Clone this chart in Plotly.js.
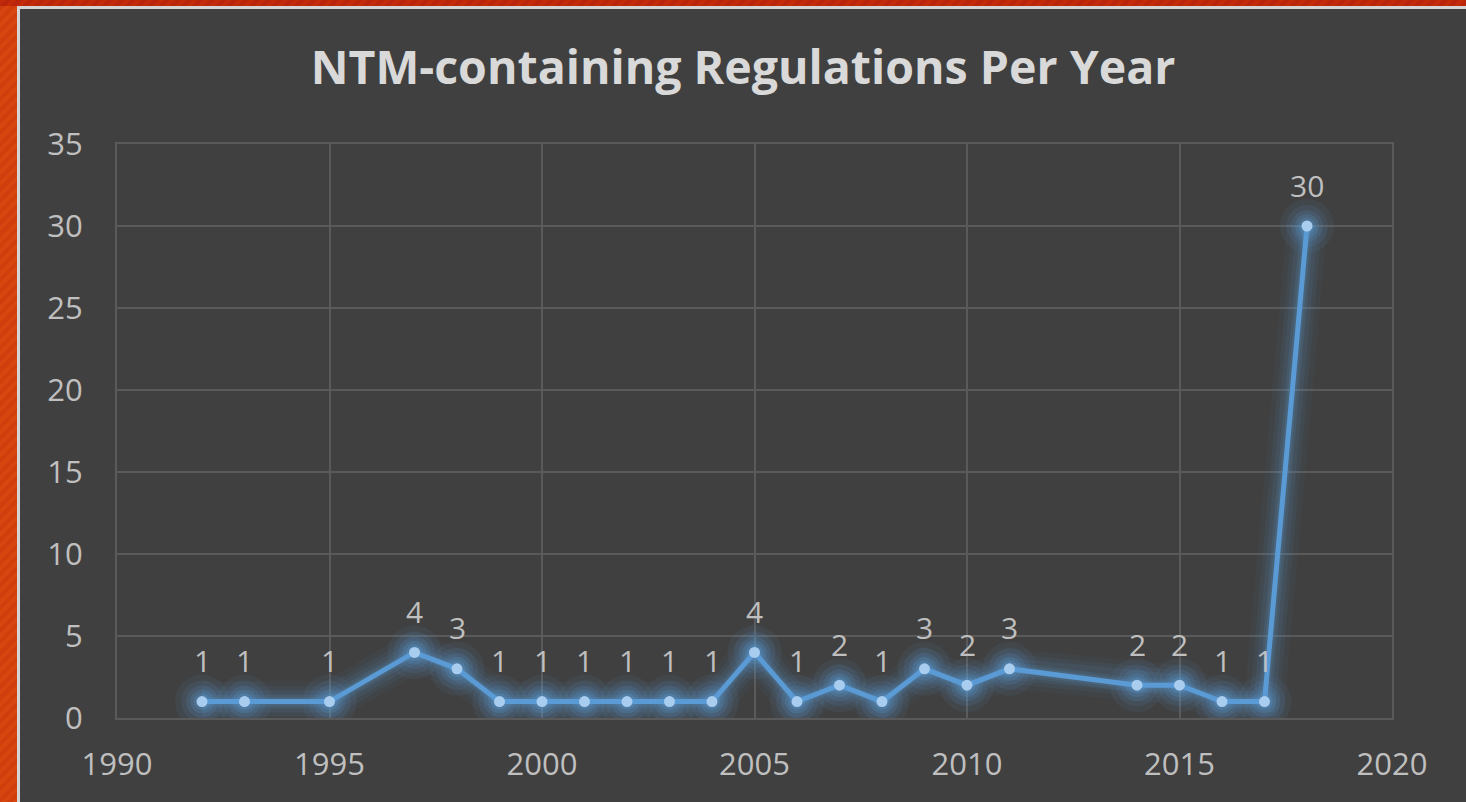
<!DOCTYPE html>
<html>
<head>
<meta charset="utf-8">
<script src="https://cdn.plot.ly/plotly-3.0.1.min.js"></script>
<style>
  html, body { margin:0; padding:0; width:1466px; height:802px; overflow:hidden; }
  body { background: repeating-linear-gradient(135deg, #d8460f 0px, #d8460f 4px, #cf3e0c 4px, #cf3e0c 8px); position:relative; }
  #topband { position:absolute; left:0; top:0; width:1466px; height:6px; background: repeating-linear-gradient(135deg, #c22a0a 0px, #c22a0a 4px, #b8250a 4px, #b8250a 8px); }
  #edge { position:absolute; left:17px; top:6px; width:1449px; height:796px; background:#d4d4d4; }
  #chart { position:absolute; left:20px; top:9px; width:1446px; height:793px; }
</style>
</head>
<body>
<div id="topband"></div>
<div id="edge"></div>
<div id="chart"></div>
<script>
const years  = [1992, 1993, 1995, 1997, 1998, 1999, 2000, 2001, 2002, 2003, 2004, 2005, 2006, 2007, 2008, 2009, 2010, 2011, 2014, 2015, 2016, 2017, 2018];
const counts = [1, 1, 1, 4, 3, 1, 1, 1, 1, 1, 1, 4, 1, 2, 1, 3, 2, 3, 2, 2, 1, 1, 30];
const titleText = 'NTM-containing Regulations Per Year';
const xTicks = [1990, 1995, 2000, 2005, 2010, 2015, 2020];
const yTicks = [0, 5, 10, 15, 20, 25, 30, 35];

const font = '"Open Sans", "Noto Sans", sans-serif';
const glow = a => 'rgba(91,155,213,' + a + ')';

const traces = [];
// soft glow layers
[[40, 54, 0.05], [30, 42, 0.07], [22, 32, 0.09], [14, 24, 0.12], [9, 17, 0.16]].forEach(([lw, ms, a]) => {
  traces.push({ x: years, y: counts, mode: 'lines+markers', hoverinfo: 'skip',
    line: { color: glow(a), width: lw },
    marker: { color: glow(a * 1.5), size: ms, line: { width: 0 } } });
});
traces.push({ x: years, y: counts, mode: 'lines+markers',
  line: { color: '#5b9bd5', width: 5 },
  marker: { color: '#a8cdef', size: 11, line: { width: 0 } } });

const annotations = years.map((yr, i) => ({
  x: yr, y: counts[i], text: String(counts[i]), showarrow: false,
  xanchor: 'center', yanchor: 'middle', yshift: 41,
  font: { family: font, size: 30, color: '#bfbfbf' }
}));

const layout = {
  width: 1446, height: 793,
  paper_bgcolor: '#404040', plot_bgcolor: '#404040',
  margin: { l: 97, r: 74, t: 135, b: 84 },
  showlegend: false,
  title: { text: '<b>' + titleText + '</b>', x: 0.5, xanchor: 'center', y: 1 - 59/793, yanchor: 'middle',
           font: { family: font, size: 46.5, color: '#d9d9d9' } },
  xaxis: { range: [1990, 2020], tickvals: xTicks, ticktext: xTicks.map(String),
           showgrid: true, gridcolor: '#5a5a5a', gridwidth: 2,
           showline: true, mirror: true, linecolor: '#5a5a5a', linewidth: 2,
           zeroline: false, ticks: 'outside', ticklen: 18, tickcolor: 'rgba(0,0,0,0)',
           tickfont: { family: font, size: 31, color: '#bfbfbf' } },
  yaxis: { range: [0, 35], tickvals: yTicks, ticktext: yTicks.map(String),
           showgrid: true, gridcolor: '#5a5a5a', gridwidth: 2,
           showline: true, mirror: true, linecolor: '#5a5a5a', linewidth: 2,
           zeroline: false, ticks: 'outside', ticklen: 26, tickcolor: 'rgba(0,0,0,0)',
           tickfont: { family: font, size: 31, color: '#bfbfbf' } },
  annotations: annotations
};

Plotly.newPlot('chart', traces, layout, { displayModeBar: false, staticPlot: true });
</script>
</body>
</html>
